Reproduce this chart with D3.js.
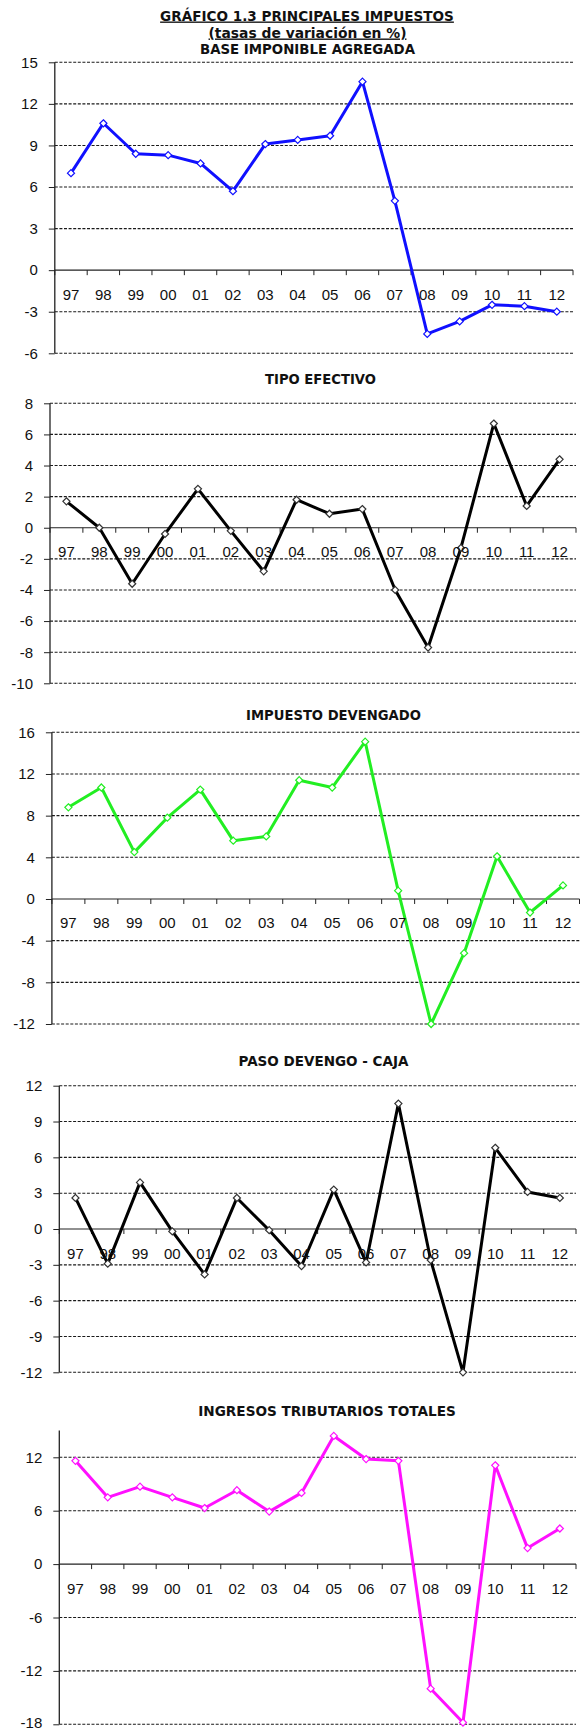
<!DOCTYPE html>
<html>
<head>
<meta charset="utf-8">
<script src="https://cdn.jsdelivr.net/npm/d3@7"></script>
<style>
  html, body { margin: 0; padding: 0; background: #fff; }
  svg { display: block; }
</style>
</head>
<body>
<script>
// ---------- DATA ----------
const years = ["97","98","99","00","01","02","03","04","05","06","07","08","09","10","11","12"];

const baseImponible     = [7.0, 10.6, 8.4, 8.3, 7.7, 5.7, 9.1, 9.4, 9.7, 13.6, 5.0, -4.6, -3.7, -2.5, -2.6, -3.0];
const tipoEfectivo      = [1.7, 0.0, -3.6, -0.4, 2.5, -0.2, -2.8, 1.8, 0.9, 1.2, -4.0, -7.7, -1.3, 6.7, 1.4, 4.4];
const impuestoDevengado = [8.8, 10.7, 4.5, 7.8, 10.5, 5.6, 6.0, 11.4, 10.7, 15.1, 0.8, -12.0, -5.2, 4.1, -1.3, 1.3];
const pasoDevengoCaja   = [2.6, -2.9, 3.9, -0.2, -3.8, 2.6, -0.1, -3.1, 3.3, -2.8, 10.5, -2.6, -12.0, 6.8, 3.1, 2.6];
const ingresosTotales   = [11.6, 7.5, 8.7, 7.5, 6.3, 8.3, 5.9, 8.0, 14.4, 11.8, 11.6, -14.0, -17.8, 11.1, 1.8, 4.0];

const ticks1 = [-6, -3, 0, 3, 6, 9, 12, 15];
const ticks2 = [-10, -8, -6, -4, -2, 0, 2, 4, 6, 8];
const ticks3 = [-12, -8, -4, 0, 4, 8, 12, 16];
const ticks4 = [-12, -9, -6, -3, 0, 3, 6, 9, 12];
const ticks5 = [-18, -12, -6, 0, 6, 12];

const titleMain = "GRÁFICO 1.3 PRINCIPALES IMPUESTOS";
const titleSub  = "(tasas de variación en %)";
const panelTitles = ["BASE IMPONIBLE AGREGADA", "TIPO EFECTIVO", "IMPUESTO DEVENGADO", "PASO DEVENGO - CAJA", "INGRESOS TRIBUTARIOS TOTALES"];

// ---------- LAYOUT ----------
const W = 581, H = 1731;
const svg = d3.select("body").append("svg").attr("width", W).attr("height", H);

const TITLE_FONT = "'DejaVu Sans', Verdana, sans-serif";
const LABEL_FONT = "'Liberation Sans', Arial, sans-serif";

function fitText(sel, width) {
  const len = sel.node().getComputedTextLength();
  const fs = parseFloat(sel.attr("font-size"));
  sel.attr("font-size", (fs * width / len).toFixed(2));
}

function title(text, cx, y, width, underline) {
  const t = svg.append("text")
    .attr("x", cx).attr("y", y)
    .attr("text-anchor", "middle")
    .attr("font-family", TITLE_FONT)
    .attr("font-weight", "bold")
    .attr("font-size", 12)
    .attr("fill", "#111")
    .text(text);
  fitText(t, width);
  if (underline) t.style("text-decoration", "underline");
  return t;
}

title(titleMain, 307, 20.5, 294, true);
title(titleSub, 307.5, 37.5, 198, true);

const panels = [
  { data: baseImponible, ticks: ticks1, domain: [-6, 15], top: 62.3, bottom: 353.3, left: 54.8, right: 573, color: "#1010ff", title: panelTitles[0], tcx: 307.5, ty: 53.5, tw: 215 },
  { data: tipoEfectivo, ticks: ticks2, domain: [-10, 8], top: 403.3, bottom: 683.3, left: 50, right: 576, color: "#000000", title: panelTitles[1], tcx: 320.5, ty: 384, tw: 111 },
  { data: impuestoDevengado, ticks: ticks3, domain: [-12, 16], top: 732.3, bottom: 1024, left: 51.9, right: 579.5, color: "#22ee22", title: panelTitles[2], tcx: 333.5, ty: 719.5, tw: 175 },
  { data: pasoDevengoCaja, ticks: ticks4, domain: [-12, 12], top: 1085.7, bottom: 1372.3, left: 59.3, right: 576, color: "#000000", title: panelTitles[3], tcx: 323.5, ty: 1066, tw: 170 },
  { data: ingresosTotales, ticks: ticks5, domain: [-18, 15], top: 1430.6, bottom: 1724.3, left: 59.3, right: 576, color: "#ff10ff", title: panelTitles[4], tcx: 327, ty: 1416, tw: 258 }
];

const fmt = v => (v < 0 ? "-" + Math.abs(v) : String(v));

panels.forEach(p => {
  title(p.title, p.tcx, p.ty, p.tw, false);

  const y = d3.scaleLinear().domain(p.domain).range([p.bottom, p.top]);
  const x = d3.scaleBand().domain(years).range([p.left, p.right]).padding(0);
  const g = svg.append("g");

  // dashed gridlines
  g.selectAll("line.grid").data(p.ticks.filter(t => t !== 0)).join("line")
    .attr("x1", p.left).attr("x2", p.right)
    .attr("y1", d => y(d)).attr("y2", d => y(d))
    .attr("stroke", "#1a1a1a").attr("stroke-width", 1.1)
    .attr("stroke-dasharray", "3,1.6");

  // y axis
  const yAxis = d3.axisLeft(y).tickValues(p.ticks).tickFormat(fmt).tickSize(6).tickPadding(11);
  const ya = g.append("g").attr("transform", `translate(${p.left},0)`).call(yAxis);
  ya.select(".domain").remove();
  ya.selectAll(".tick line").attr("stroke", "#222").attr("stroke-width", 1);
  ya.selectAll(".tick text").attr("font-family", LABEL_FONT).attr("font-size", 15).attr("fill", "#111");
  // keep labels inside the page
  ya.selectAll(".tick text").each(function () {
    const b = this.getBBox();
    const ty = y(d3.select(this.parentNode).datum());
    const over = ty + b.y + b.height - (H - 0.5);
    if (over > 0) d3.select(this).attr("y", -over);
  });
  g.append("line")
    .attr("x1", p.left).attr("x2", p.left)
    .attr("y1", y(p.domain[1])).attr("y2", y(p.domain[0]))
    .attr("stroke", "#222").attr("stroke-width", 1.3);

  // zero axis with category ticks
  g.append("line")
    .attr("x1", p.left).attr("x2", p.right)
    .attr("y1", y(0)).attr("y2", y(0))
    .attr("stroke", "#222").attr("stroke-width", 1.2);
  const bounds = years.map(d => x(d)).concat([p.right]);
  g.selectAll("line.xt").data(bounds).join("line")
    .attr("x1", d => d).attr("x2", d => d)
    .attr("y1", y(0)).attr("y2", y(0) + 5)
    .attr("stroke", "#222").attr("stroke-width", 1);

  // line
  const line = d3.line().x((d, i) => x(years[i]) + x.bandwidth() / 2).y(d => y(d));
  g.append("path").datum(p.data)
    .attr("d", line)
    .attr("fill", "none")
    .attr("stroke", p.color)
    .attr("stroke-width", 3)
    .attr("stroke-linejoin", "round");

  // markers
  const sym = d3.symbol().type(d3.symbolDiamond2).size(32);
  g.selectAll("path.mk").data(p.data).join("path")
    .attr("d", sym)
    .attr("transform", (d, i) => `translate(${x(years[i]) + x.bandwidth() / 2},${y(d)})`)
    .attr("fill", "#fff")
    .attr("stroke", p.color === "#000000" ? "#333" : p.color)
    .attr("stroke-width", 1.2);

  // category labels
  g.selectAll("text.xl").data(years).join("text")
    .attr("x", d => x(d) + x.bandwidth() / 2)
    .attr("y", y(0) + 29.5)
    .attr("text-anchor", "middle")
    .attr("font-family", LABEL_FONT)
    .attr("font-size", 15)
    .attr("fill", "#111")
    .text(d => d);
});
</script>
</body>
</html>
